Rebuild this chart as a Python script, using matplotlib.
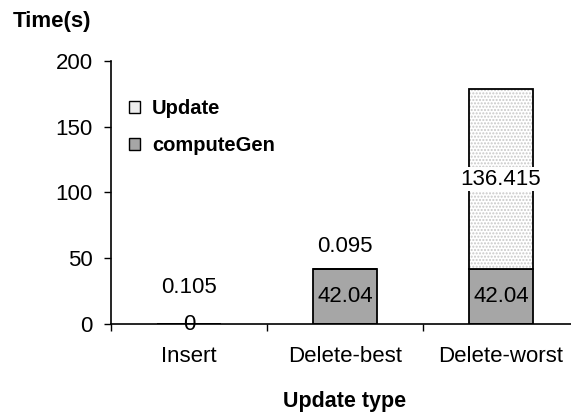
import numpy as np
import matplotlib
matplotlib.use('Agg')
from matplotlib import pyplot as plt
from matplotlib.patches import Patch

# Update cost per update type, stacked on the computeGen part
categories = ['Insert', 'Delete-best', 'Delete-worst']
compute_gen = [0, 42.04, 42.04]
update = [0.105, 0.095, 136.415]
compute_labels = ['0', '42.04', '42.04']
update_labels = ['0.105', '0.095', '136.415']

plt.rcParams['font.family'] = ['Liberation Sans', 'DejaVu Sans']

fig = plt.figure(figsize=(5.71, 4.15), dpi=100)
ax = fig.add_axes([111 / 571, 91 / 415, 468 / 571, 263 / 415])

x = np.arange(len(categories))
width = 0.41
gray = '#a6a6a6'
dots = '#c8c8c8'

# computeGen part
ax.bar(x, compute_gen, width, color=gray, edgecolor='black', linewidth=1.3, zorder=2)
# update part: dotted fill first, then the black outline on top
ax.bar(x, update, width, bottom=compute_gen, color='white', edgecolor=dots,
       hatch='.....', linewidth=0, zorder=2)
ax.bar(x, update, width, bottom=compute_gen, color='none', edgecolor='black',
       linewidth=1.3, zorder=3)

# value labels
for i in range(len(x)):
    ax.text(x[i], compute_gen[i] / 2, compute_labels[i], ha='center', va='center',
            fontsize=16, zorder=4)

# update labels: small segments get pushed above the stack
update_offsets = [26, 16, 0]
for i in range(len(x)):
    if update_offsets[i] == 0:
        ax.text(x[i], compute_gen[i] + update[i] / 2, update_labels[i],
                ha='center', va='center', fontsize=16, zorder=4,
                bbox=dict(facecolor='white', edgecolor='none', pad=1))
    else:
        ax.annotate(update_labels[i], (x[i], compute_gen[i] + update[i]),
                    xytext=(0, update_offsets[i]), textcoords='offset points',
                    ha='center', va='center', fontsize=16, zorder=4)

ax.set_xlim(-0.5, 2.5)
ax.set_ylim(0, 200)
ax.set_yticks([0, 50, 100, 150, 200])
ax.tick_params(axis='y', direction='out', length=5, width=1, labelsize=16, pad=8)

# category boundaries get the tick marks, centers get the labels
ax.set_xticks([-0.5, 0.5, 1.5, 2.5])
ax.set_xticklabels([])
ax.set_xticks(x, minor=True)
ax.set_xticklabels(categories, minor=True, fontsize=16)
ax.tick_params(axis='x', which='major', direction='out', length=5, width=1)
ax.tick_params(axis='x', which='minor', length=0, pad=16)

for side in ['top', 'right']:
    ax.spines[side].set_visible(False)
ax.spines['left'].set_linewidth(1.2)
ax.spines['bottom'].set_linewidth(1.2)

fig.text(13 / 571, 1 - 22 / 415, 'Time(s)', fontsize=16, fontweight='bold',
         ha='left', va='center')
fig.text(345 / 571, 1 - 401 / 415, 'Update type', fontsize=15.5, fontweight='bold',
         ha='center', va='center')

handles = [Patch(facecolor='#ececec', edgecolor='black', linewidth=1),
           Patch(facecolor=gray, edgecolor='black', linewidth=1)]
leg = ax.legend(handles, ['Update', 'computeGen'], loc='upper left',
                bbox_to_anchor=(129 / 571, 1 - 99 / 415),
                bbox_transform=fig.transFigure, frameon=False,
                prop={'size': 14.5, 'weight': 'bold'}, handlelength=0.55,
                handleheight=0.55, handletextpad=0.6, labelspacing=0.9,
                borderpad=0, borderaxespad=0)

fig.savefig('out.png', dpi=100)
